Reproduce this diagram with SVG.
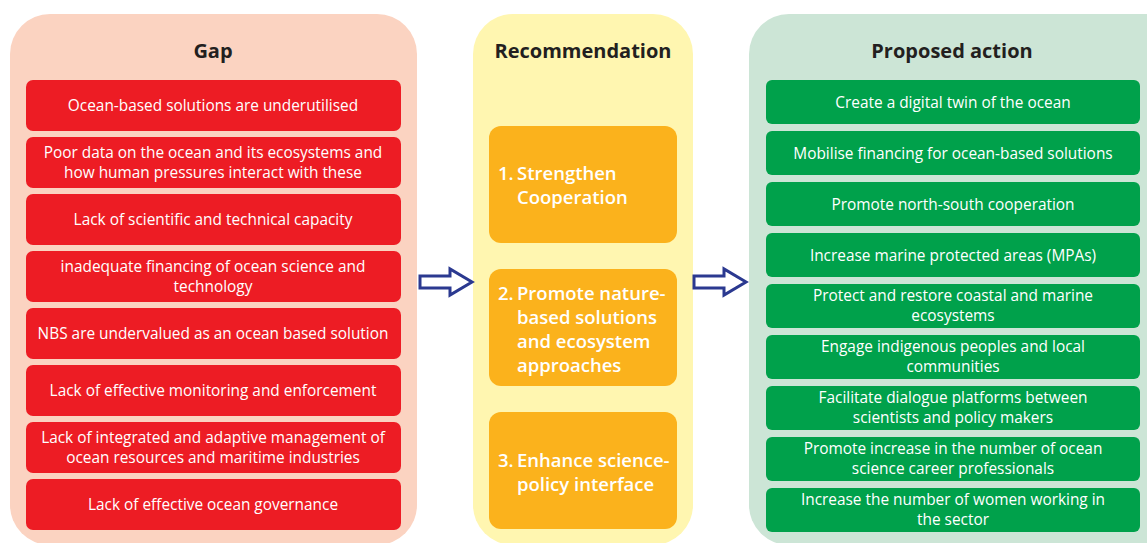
<svg xmlns="http://www.w3.org/2000/svg" width="1147" height="543" viewBox="0 0 1147 543">
<defs>
<style>
.t{font-family:"Open Sans","Noto Sans",sans-serif;fill:#fff;text-anchor:middle}
.r{font-size:15.4px}
.g{font-size:15.4px}
.h{font-family:"Open Sans","Noto Sans",sans-serif;font-weight:bold;font-size:20px;fill:#231f20;text-anchor:middle}
.o{font-family:"Open Sans","Noto Sans",sans-serif;font-weight:600;font-size:18.5px;fill:#fff}
.red{fill:#ed1c24}
.grn{fill:#00a14b}
.org{fill:#fbb21c}
.arr{fill:#fff;stroke:#2b3990;stroke-width:3;stroke-linejoin:miter}
</style>
</defs>
<rect width="1147" height="543" fill="#fff"/>
<g id="panel-gap">
<rect x="10" y="14" width="407" height="531" rx="40" fill="#fbd3c1"/>
<text class="h" x="213" y="58">Gap</text>
</g>
<g id="panel-rec">
<rect x="473" y="14" width="220" height="531" rx="40" fill="#fff6b0"/>
<text class="h" x="583" y="58">Recommendation</text>
</g>
<g id="panel-act">
<rect x="749" y="14" width="440" height="531" rx="40" fill="#cce5d6"/>
<text class="h" x="952" y="58">Proposed action</text>
</g>
<g id="gap1"><rect class="red" x="26" y="80" width="375" height="51" rx="7"/><text class="t r" x="213" y="111">Ocean-based solutions are underutilised</text></g>
<g id="gap2"><rect class="red" x="26" y="137" width="375" height="51" rx="7"/><text class="t r" x="213" y="158">Poor data on the ocean and its ecosystems and</text><text class="t r" x="213" y="178">how human pressures interact with these</text></g>
<g id="gap3"><rect class="red" x="26" y="194" width="375" height="51" rx="7"/><text class="t r" x="213" y="225">Lack of scientific and technical capacity</text></g>
<g id="gap4"><rect class="red" x="26" y="251" width="375" height="51" rx="7"/><text class="t r" x="213" y="272">inadequate financing of ocean science and</text><text class="t r" x="213" y="292">technology</text></g>
<g id="gap5"><rect class="red" x="26" y="308" width="375" height="51" rx="7"/><text class="t r" x="213" y="339">NBS are undervalued as an ocean based solution</text></g>
<g id="gap6"><rect class="red" x="26" y="365" width="375" height="51" rx="7"/><text class="t r" x="213" y="396">Lack of effective monitoring and enforcement</text></g>
<g id="gap7"><rect class="red" x="26" y="422" width="375" height="51" rx="7"/><text class="t r" x="213" y="443">Lack of integrated and adaptive management of</text><text class="t r" x="213" y="463">ocean resources and maritime industries</text></g>
<g id="gap8"><rect class="red" x="26" y="479" width="375" height="51" rx="7"/><text class="t r" x="213" y="510">Lack of effective ocean governance</text></g>
<g id="rec1"><rect class="org" x="489" y="126" width="188" height="117" rx="12"/><text class="o" x="498" y="180">1.</text><text class="o" x="517" y="180">Strengthen</text><text class="o" x="517" y="204">Cooperation</text></g>
<g id="rec2"><rect class="org" x="489" y="269" width="188" height="117" rx="12"/><text class="o" x="498" y="300">2.</text><text class="o" x="517" y="300">Promote nature-</text><text class="o" x="517" y="324">based solutions</text><text class="o" x="517" y="348">and ecosystem</text><text class="o" x="517" y="372">approaches</text></g>
<g id="rec3"><rect class="org" x="489" y="412" width="188" height="117" rx="12"/><text class="o" x="498" y="467">3.</text><text class="o" x="517" y="467">Enhance science-</text><text class="o" x="517" y="491">policy interface</text></g>
<g id="act1"><rect class="grn" x="766" y="80" width="374" height="44" rx="6"/><text class="t g" x="953" y="108">Create a digital twin of the ocean</text></g>
<g id="act2"><rect class="grn" x="766" y="131" width="374" height="44" rx="6"/><text class="t g" x="953" y="159">Mobilise financing for ocean-based solutions</text></g>
<g id="act3"><rect class="grn" x="766" y="182" width="374" height="44" rx="6"/><text class="t g" x="953" y="210">Promote north-south cooperation</text></g>
<g id="act4"><rect class="grn" x="766" y="233" width="374" height="44" rx="6"/><text class="t g" x="953" y="261">Increase marine protected areas (MPAs)</text></g>
<g id="act5"><rect class="grn" x="766" y="284" width="374" height="44" rx="6"/><text class="t g" x="953" y="301">Protect and restore coastal and marine</text><text class="t g" x="953" y="321">ecosystems</text></g>
<g id="act6"><rect class="grn" x="766" y="335" width="374" height="44" rx="6"/><text class="t g" x="953" y="352">Engage indigenous peoples and local</text><text class="t g" x="953" y="372">communities</text></g>
<g id="act7"><rect class="grn" x="766" y="386" width="374" height="44" rx="6"/><text class="t g" x="953" y="403">Facilitate dialogue platforms between</text><text class="t g" x="953" y="423">scientists and policy makers</text></g>
<g id="act8"><rect class="grn" x="766" y="437" width="374" height="44" rx="6"/><text class="t g" x="953" y="454">Promote increase in the number of ocean</text><text class="t g" x="953" y="474">science career professionals</text></g>
<g id="act9"><rect class="grn" x="766" y="488" width="374" height="44" rx="6"/><text class="t g" x="953" y="505">Increase the number of women working in</text><text class="t g" x="953" y="525">the sector</text></g>
<g id="connectors">
<path class="arr" d="M420,276 H450 V269 L472,282 L450,295 V288 H420 Z"/>
<path class="arr" d="M694,276 H724 V269 L746,282 L724,295 V288 H694 Z"/>
</g>
</svg>
